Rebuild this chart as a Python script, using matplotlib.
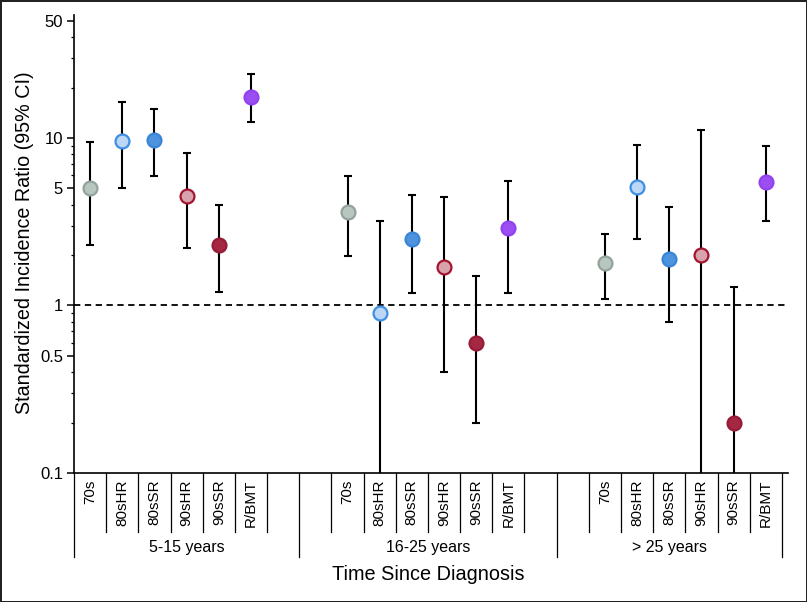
import numpy as np
import matplotlib.pyplot as plt
from matplotlib.ticker import LogLocator, NullFormatter

plt.rcParams['font.family'] = ['Liberation Sans', 'DejaVu Sans']

# cohorts and follow-up periods
categories = ['70s', '80sHR', '80sSR', '90sHR', '90sSR', 'R/BMT']
periods = ['5-15 years', '16-25 years', '> 25 years']

# SIR with 95% CI (0.01 = interval runs off the axis)
sir_5_15 = [5.0, 9.6, 9.7, 4.5, 2.3, 17.6]
lo_5_15 = [2.3, 5.0, 5.9, 2.2, 1.2, 12.4]
hi_5_15 = [9.5, 16.5, 14.9, 8.1, 4.0, 24.2]

sir_16_25 = [3.6, 0.90, 2.5, 1.7, 0.60, 2.9]
lo_16_25 = [1.98, 0.01, 1.19, 0.40, 0.20, 1.19]
hi_16_25 = [5.96, 3.18, 4.59, 4.46, 1.49, 5.56]

sir_25 = [1.79, 5.1, 1.9, 2.0, 0.20, 5.48]
lo_25 = [1.09, 2.48, 0.80, 0.01, 0.01, 3.19]
hi_25 = [2.67, 9.08, 3.87, 11.2, 1.29, 9.0]

faces = ['#b8c6c0', '#bcd6f6', '#4d93de', '#d9a3ad', '#a52842', '#9b4ef2']
edges = ['#93a39c', '#3d8fe3', '#3a85d6', '#a3152f', '#951b36', '#9142ee']

groups = [(sir_5_15, lo_5_15, hi_5_15),
          (sir_16_25, lo_16_25, hi_16_25),
          (sir_25, lo_25, hi_25)]
starts = [0, 8, 16]          # first slot of each group
bounds = [0, 7, 15, 22]      # long separators between periods

fig = plt.figure(figsize=(8.07, 6.02), dpi=100, edgecolor='#222222', linewidth=2)
ax = fig.add_axes([74 / 807, 1 - 473 / 602, (788 - 74) / 807, (473 - 15) / 602])

for (sir, lo, hi), s in zip(groups, starts):
    for i in range(len(categories)):
        x = s + i + 0.5
        err = [[sir[i] - lo[i]], [hi[i] - sir[i]]]
        ax.errorbar([x], [sir[i]], yerr=err, fmt='none', ecolor='black',
                    elinewidth=1.5, capsize=3, capthick=1.5, zorder=2)
        ax.plot([x], [sir[i]], 'o', ms=10, mfc=faces[i], mec=edges[i],
                mew=1.6, zorder=3)

ax.axhline(1, color='black', lw=1.3, ls=(0, (3.5, 2.5)), zorder=1)

ax.set_yscale('log')
ax.set_ylim(0.1, 10 ** 1.734)
ax.set_xlim(0, 22.19)
ax.set_yticks([0.1, 0.5, 1, 5, 10, 50])
ax.set_yticklabels(['0.1', '0.5', '1', '5', '10', '50'], fontsize=12)
ax.yaxis.set_minor_locator(LogLocator(base=10, subs=np.arange(2, 10)))
ax.yaxis.set_minor_formatter(NullFormatter())
ax.tick_params(axis='y', which='major', length=5, width=1.1, pad=3)
ax.tick_params(axis='y', which='minor', length=2.5, width=0.9)
ax.set_xticks([])
for sp in ['top', 'right']:
    ax.spines[sp].set_visible(False)
ax.spines['left'].set_linewidth(1.2)
ax.spines['bottom'].set_linewidth(1.2)

tr = ax.get_xaxis_transform()
for s in starts:
    for k in range(len(categories)):
        ax.text(s + k + 0.5, -0.015, categories[k], rotation=90, ha='center',
                va='top', fontsize=11, transform=tr)
        if s + k + 1 not in bounds:
            ax.plot([s + k + 1] * 2, [0, -0.129], color='black', lw=0.9,
                    transform=tr, clip_on=False)
    if s > 0:
        ax.plot([s] * 2, [0, -0.129], color='black', lw=0.9,
                transform=tr, clip_on=False)
for b in bounds:
    ax.plot([b] * 2, [0, -0.183], color='black', lw=0.9,
            transform=tr, clip_on=False)
for p, (a, b) in zip(periods, zip(bounds[:-1], bounds[1:])):
    ax.text((a + b) / 2, -0.162, p, ha='center', va='center', fontsize=11.5,
            transform=tr)

fig.text(428 / 807, 1 - 575 / 602, 'Time Since Diagnosis', ha='center',
         va='center', fontsize=14.3)
fig.text(25 / 807, 1 - 243 / 602, 'Standardized Incidence Ratio (95% CI)',
         rotation=90, ha='center', va='center', fontsize=14.2)

fig.savefig('out.png', dpi=100)
